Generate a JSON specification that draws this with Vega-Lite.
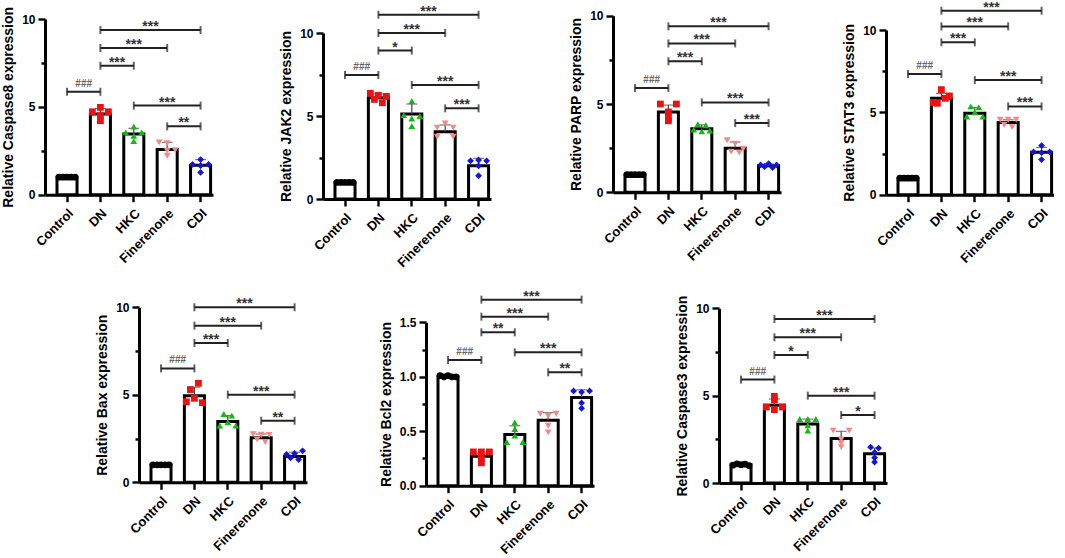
{
"$schema": "https://vega.github.io/schema/vega-lite/v6.json",
"padding": {"left": 1, "top": 0, "right": 0, "bottom": 0},
"datasets": {"d": [
{"p":"A","t":"bar","g":"Control","v":1.0,"e":1.02},{"p":"A","t":"bar","g":"DN","v":4.6,"e":4.9},{"p":"A","t":"bar","g":"HKC","v":3.45,"e":3.78},{"p":"A","t":"bar","g":"Finerenone","v":2.57,"e":2.98},{"p":"A","t":"bar","g":"CDI","v":1.67,"e":2.0},
{"p":"A","t":"pt","g":"Control","k":1,"v":1.0},{"p":"A","t":"pt","g":"Control","k":2,"v":1.0},{"p":"A","t":"pt","g":"Control","k":3,"v":1.0},{"p":"A","t":"pt","g":"Control","k":4,"v":1.0},{"p":"A","t":"pt","g":"Control","k":5,"v":1.0},
{"p":"A","t":"pt","g":"DN","k":3,"v":4.97},{"p":"A","t":"pt","g":"DN","k":1,"v":4.72},{"p":"A","t":"pt","g":"DN","k":5,"v":4.72},{"p":"A","t":"pt","g":"DN","k":3,"v":4.5},{"p":"A","t":"pt","g":"DN","k":3,"v":4.21},
{"p":"A","t":"pt","g":"HKC","k":3,"v":3.88},{"p":"A","t":"pt","g":"HKC","k":1,"v":3.55},{"p":"A","t":"pt","g":"HKC","k":5,"v":3.55},{"p":"A","t":"pt","g":"HKC","k":3,"v":3.35},{"p":"A","t":"pt","g":"HKC","k":3,"v":3.05},
{"p":"A","t":"pt","g":"Finerenone","k":1,"v":2.98},{"p":"A","t":"pt","g":"Finerenone","k":3,"v":2.93},{"p":"A","t":"pt","g":"Finerenone","k":5,"v":2.54},{"p":"A","t":"pt","g":"Finerenone","k":3,"v":2.5},{"p":"A","t":"pt","g":"Finerenone","k":3,"v":2.22},
{"p":"A","t":"pt","g":"CDI","k":3,"v":2.0},{"p":"A","t":"pt","g":"CDI","k":1,"v":1.72},{"p":"A","t":"pt","g":"CDI","k":5,"v":1.72},{"p":"A","t":"pt","g":"CDI","k":3,"v":1.65},{"p":"A","t":"pt","g":"CDI","k":3,"v":1.27},
{"p":"A","t":"brk","g":"DN","g2":"CDI","s":3,"v":9.37,"lab":"***"},{"p":"A","t":"brk","g":"DN","g2":"Finerenone","s":2,"v":8.35,"lab":"***"},{"p":"A","t":"brk","g":"DN","g2":"HKC","s":1,"v":7.34,"lab":"***"},{"p":"A","t":"brk","g":"Control","g2":"DN","s":1,"v":5.86,"lab":"###"},{"p":"A","t":"brk","g":"HKC","g2":"CDI","s":2,"v":5.07,"lab":"***"},{"p":"A","t":"brk","g":"Finerenone","g2":"CDI","s":1,"v":3.89,"lab":"**"},

{"p":"B","t":"bar","g":"Control","v":1.0,"e":1.02},{"p":"B","t":"bar","g":"DN","v":6.1,"e":6.33},{"p":"B","t":"bar","g":"HKC","v":5.12,"e":5.72},{"p":"B","t":"bar","g":"Finerenone","v":4.05,"e":4.46},{"p":"B","t":"bar","g":"CDI","v":2.01,"e":2.45},
{"p":"B","t":"pt","g":"Control","k":1,"v":1.0},{"p":"B","t":"pt","g":"Control","k":2,"v":1.0},{"p":"B","t":"pt","g":"Control","k":3,"v":1.0},{"p":"B","t":"pt","g":"Control","k":4,"v":1.0},{"p":"B","t":"pt","g":"Control","k":5,"v":1.0},
{"p":"B","t":"pt","g":"DN","k":1,"v":6.37},{"p":"B","t":"pt","g":"DN","k":3,"v":6.25},{"p":"B","t":"pt","g":"DN","k":5,"v":6.18},{"p":"B","t":"pt","g":"DN","k":2,"v":6.0},{"p":"B","t":"pt","g":"DN","k":4,"v":5.8},
{"p":"B","t":"pt","g":"HKC","k":3,"v":5.9},{"p":"B","t":"pt","g":"HKC","k":1,"v":5.05},{"p":"B","t":"pt","g":"HKC","k":5,"v":5.0},{"p":"B","t":"pt","g":"HKC","k":3,"v":4.85},{"p":"B","t":"pt","g":"HKC","k":3,"v":4.4},
{"p":"B","t":"pt","g":"Finerenone","k":3,"v":4.55},{"p":"B","t":"pt","g":"Finerenone","k":1,"v":4.3},{"p":"B","t":"pt","g":"Finerenone","k":5,"v":4.3},{"p":"B","t":"pt","g":"Finerenone","k":1,"v":3.75},{"p":"B","t":"pt","g":"Finerenone","k":5,"v":3.75},
{"p":"B","t":"pt","g":"CDI","k":3,"v":2.35},{"p":"B","t":"pt","g":"CDI","k":1,"v":2.3},{"p":"B","t":"pt","g":"CDI","k":5,"v":2.3},{"p":"B","t":"pt","g":"CDI","k":3,"v":2.0},{"p":"B","t":"pt","g":"CDI","k":3,"v":1.4},
{"p":"B","t":"brk","g":"DN","g2":"CDI","s":3,"v":11.1,"lab":"***"},{"p":"B","t":"brk","g":"DN","g2":"Finerenone","s":2,"v":10.0,"lab":"***"},{"p":"B","t":"brk","g":"DN","g2":"HKC","s":1,"v":8.94,"lab":"*"},{"p":"B","t":"brk","g":"Control","g2":"DN","s":1,"v":7.47,"lab":"###"},{"p":"B","t":"brk","g":"HKC","g2":"CDI","s":2,"v":6.87,"lab":"***"},{"p":"B","t":"brk","g":"Finerenone","g2":"CDI","s":1,"v":5.46,"lab":"***"},

{"p":"C","t":"bar","g":"Control","v":1.0,"e":1.02},{"p":"C","t":"bar","g":"DN","v":4.55,"e":4.94},{"p":"C","t":"bar","g":"HKC","v":3.6,"e":3.82},{"p":"C","t":"bar","g":"Finerenone","v":2.5,"e":2.85},{"p":"C","t":"bar","g":"CDI","v":1.5,"e":1.6},
{"p":"C","t":"pt","g":"Control","k":1,"v":1.0},{"p":"C","t":"pt","g":"Control","k":2,"v":1.0},{"p":"C","t":"pt","g":"Control","k":3,"v":1.0},{"p":"C","t":"pt","g":"Control","k":4,"v":1.0},{"p":"C","t":"pt","g":"Control","k":5,"v":1.0},
{"p":"C","t":"pt","g":"DN","k":1,"v":5.0},{"p":"C","t":"pt","g":"DN","k":5,"v":5.0},{"p":"C","t":"pt","g":"DN","k":3,"v":4.55},{"p":"C","t":"pt","g":"DN","k":3,"v":4.2},{"p":"C","t":"pt","g":"DN","k":3,"v":4.05},
{"p":"C","t":"pt","g":"HKC","k":2,"v":3.85},{"p":"C","t":"pt","g":"HKC","k":4,"v":3.8},{"p":"C","t":"pt","g":"HKC","k":1,"v":3.55},{"p":"C","t":"pt","g":"HKC","k":5,"v":3.5},{"p":"C","t":"pt","g":"HKC","k":3,"v":3.45},
{"p":"C","t":"pt","g":"Finerenone","k":1,"v":2.95},{"p":"C","t":"pt","g":"Finerenone","k":3,"v":2.75},{"p":"C","t":"pt","g":"Finerenone","k":5,"v":2.45},{"p":"C","t":"pt","g":"Finerenone","k":2,"v":2.3},{"p":"C","t":"pt","g":"Finerenone","k":4,"v":2.25},
{"p":"C","t":"pt","g":"CDI","k":3,"v":1.62},{"p":"C","t":"pt","g":"CDI","k":1,"v":1.55},{"p":"C","t":"pt","g":"CDI","k":5,"v":1.55},{"p":"C","t":"pt","g":"CDI","k":2,"v":1.45},{"p":"C","t":"pt","g":"CDI","k":4,"v":1.4},
{"p":"C","t":"brk","g":"DN","g2":"CDI","s":3,"v":9.4,"lab":"***"},{"p":"C","t":"brk","g":"DN","g2":"Finerenone","s":2,"v":8.43,"lab":"***"},{"p":"C","t":"brk","g":"DN","g2":"HKC","s":1,"v":7.42,"lab":"***"},{"p":"C","t":"brk","g":"Control","g2":"DN","s":1,"v":5.9,"lab":"###"},{"p":"C","t":"brk","g":"HKC","g2":"CDI","s":2,"v":5.09,"lab":"***"},{"p":"C","t":"brk","g":"Finerenone","g2":"CDI","s":1,"v":3.92,"lab":"***"},

{"p":"D","t":"bar","g":"Control","v":1.0,"e":1.02},{"p":"D","t":"bar","g":"DN","v":5.85,"e":6.15},{"p":"D","t":"bar","g":"HKC","v":4.95,"e":5.3},{"p":"D","t":"bar","g":"Finerenone","v":4.39,"e":4.55},{"p":"D","t":"bar","g":"CDI","v":2.57,"e":2.87},
{"p":"D","t":"pt","g":"Control","k":1,"v":1.0},{"p":"D","t":"pt","g":"Control","k":2,"v":1.0},{"p":"D","t":"pt","g":"Control","k":3,"v":1.0},{"p":"D","t":"pt","g":"Control","k":4,"v":1.0},{"p":"D","t":"pt","g":"Control","k":5,"v":1.0},
{"p":"D","t":"pt","g":"DN","k":3,"v":6.38},{"p":"D","t":"pt","g":"DN","k":5,"v":6.0},{"p":"D","t":"pt","g":"DN","k":4,"v":5.85},{"p":"D","t":"pt","g":"DN","k":1,"v":5.6},{"p":"D","t":"pt","g":"DN","k":2,"v":5.55},
{"p":"D","t":"pt","g":"HKC","k":2,"v":5.36},{"p":"D","t":"pt","g":"HKC","k":4,"v":5.3},{"p":"D","t":"pt","g":"HKC","k":3,"v":5.0},{"p":"D","t":"pt","g":"HKC","k":1,"v":4.75},{"p":"D","t":"pt","g":"HKC","k":5,"v":4.75},
{"p":"D","t":"pt","g":"Finerenone","k":1,"v":4.55},{"p":"D","t":"pt","g":"Finerenone","k":3,"v":4.55},{"p":"D","t":"pt","g":"Finerenone","k":5,"v":4.55},{"p":"D","t":"pt","g":"Finerenone","k":2,"v":4.25},{"p":"D","t":"pt","g":"Finerenone","k":4,"v":4.1},
{"p":"D","t":"pt","g":"CDI","k":3,"v":2.98},{"p":"D","t":"pt","g":"CDI","k":1,"v":2.6},{"p":"D","t":"pt","g":"CDI","k":5,"v":2.6},{"p":"D","t":"pt","g":"CDI","k":3,"v":2.55},{"p":"D","t":"pt","g":"CDI","k":3,"v":2.13},
{"p":"D","t":"brk","g":"DN","g2":"CDI","s":3,"v":11.17,"lab":"***"},{"p":"D","t":"brk","g":"DN","g2":"Finerenone","s":2,"v":10.22,"lab":"***"},{"p":"D","t":"brk","g":"DN","g2":"HKC","s":1,"v":9.25,"lab":"***"},{"p":"D","t":"brk","g":"Control","g2":"DN","s":1,"v":7.33,"lab":"###"},{"p":"D","t":"brk","g":"HKC","g2":"CDI","s":2,"v":6.96,"lab":"***"},{"p":"D","t":"brk","g":"Finerenone","g2":"CDI","s":1,"v":5.36,"lab":"***"},

{"p":"E","t":"bar","g":"Control","v":1.0,"e":1.02},{"p":"E","t":"bar","g":"DN","v":4.95,"e":5.43},{"p":"E","t":"bar","g":"HKC","v":3.47,"e":3.81},{"p":"E","t":"bar","g":"Finerenone","v":2.55,"e":2.76},{"p":"E","t":"bar","g":"CDI","v":1.47,"e":1.72},
{"p":"E","t":"pt","g":"Control","k":1,"v":1.0},{"p":"E","t":"pt","g":"Control","k":2,"v":1.0},{"p":"E","t":"pt","g":"Control","k":3,"v":1.0},{"p":"E","t":"pt","g":"Control","k":4,"v":1.0},{"p":"E","t":"pt","g":"Control","k":5,"v":1.0},
{"p":"E","t":"pt","g":"DN","k":4,"v":5.66},{"p":"E","t":"pt","g":"DN","k":2,"v":5.3},{"p":"E","t":"pt","g":"DN","k":3,"v":4.8},{"p":"E","t":"pt","g":"DN","k":1,"v":4.6},{"p":"E","t":"pt","g":"DN","k":5,"v":4.55},
{"p":"E","t":"pt","g":"HKC","k":2,"v":3.9},{"p":"E","t":"pt","g":"HKC","k":4,"v":3.81},{"p":"E","t":"pt","g":"HKC","k":3,"v":3.43},{"p":"E","t":"pt","g":"HKC","k":1,"v":3.24},{"p":"E","t":"pt","g":"HKC","k":5,"v":3.24},
{"p":"E","t":"pt","g":"Finerenone","k":1,"v":2.75},{"p":"E","t":"pt","g":"Finerenone","k":3,"v":2.72},{"p":"E","t":"pt","g":"Finerenone","k":5,"v":2.7},{"p":"E","t":"pt","g":"Finerenone","k":2,"v":2.45},{"p":"E","t":"pt","g":"Finerenone","k":4,"v":2.3},
{"p":"E","t":"pt","g":"CDI","k":5,"v":1.8},{"p":"E","t":"pt","g":"CDI","k":3,"v":1.65},{"p":"E","t":"pt","g":"CDI","k":1,"v":1.6},{"p":"E","t":"pt","g":"CDI","k":2,"v":1.4},{"p":"E","t":"pt","g":"CDI","k":4,"v":1.3},
{"p":"E","t":"brk","g":"DN","g2":"CDI","s":3,"v":10.0,"lab":"***"},{"p":"E","t":"brk","g":"DN","g2":"Finerenone","s":2,"v":8.95,"lab":"***"},{"p":"E","t":"brk","g":"DN","g2":"HKC","s":1,"v":7.96,"lab":"***"},{"p":"E","t":"brk","g":"Control","g2":"DN","s":1,"v":6.51,"lab":"###"},{"p":"E","t":"brk","g":"HKC","g2":"CDI","s":2,"v":5.01,"lab":"***"},{"p":"E","t":"brk","g":"Finerenone","g2":"CDI","s":1,"v":3.52,"lab":"**"},

{"p":"F","t":"bar","g":"Control","v":1.0,"e":1.01},{"p":"F","t":"bar","g":"DN","v":0.27,"e":0.3},{"p":"F","t":"bar","g":"HKC","v":0.47,"e":0.55},{"p":"F","t":"bar","g":"Finerenone","v":0.6,"e":0.67},{"p":"F","t":"bar","g":"CDI","v":0.81,"e":0.88},
{"p":"F","t":"pt","g":"Control","k":1,"v":1.01},{"p":"F","t":"pt","g":"Control","k":2,"v":1.0},{"p":"F","t":"pt","g":"Control","k":3,"v":1.01},{"p":"F","t":"pt","g":"Control","k":4,"v":1.0},{"p":"F","t":"pt","g":"Control","k":5,"v":1.0},
{"p":"F","t":"pt","g":"DN","k":1,"v":0.31},{"p":"F","t":"pt","g":"DN","k":3,"v":0.31},{"p":"F","t":"pt","g":"DN","k":5,"v":0.31},{"p":"F","t":"pt","g":"DN","k":3,"v":0.25},{"p":"F","t":"pt","g":"DN","k":3,"v":0.21},
{"p":"F","t":"pt","g":"HKC","k":3,"v":0.58},{"p":"F","t":"pt","g":"HKC","k":3,"v":0.52},{"p":"F","t":"pt","g":"HKC","k":3,"v":0.46},{"p":"F","t":"pt","g":"HKC","k":1,"v":0.4},{"p":"F","t":"pt","g":"HKC","k":5,"v":0.4},
{"p":"F","t":"pt","g":"Finerenone","k":1,"v":0.66},{"p":"F","t":"pt","g":"Finerenone","k":5,"v":0.66},{"p":"F","t":"pt","g":"Finerenone","k":3,"v":0.64},{"p":"F","t":"pt","g":"Finerenone","k":3,"v":0.55},{"p":"F","t":"pt","g":"Finerenone","k":3,"v":0.49},
{"p":"F","t":"pt","g":"CDI","k":1,"v":0.87},{"p":"F","t":"pt","g":"CDI","k":5,"v":0.87},{"p":"F","t":"pt","g":"CDI","k":3,"v":0.86},{"p":"F","t":"pt","g":"CDI","k":3,"v":0.76},{"p":"F","t":"pt","g":"CDI","k":3,"v":0.71},
{"p":"F","t":"brk","g":"DN","g2":"CDI","s":3,"v":1.708,"lab":"***"},{"p":"F","t":"brk","g":"DN","g2":"Finerenone","s":2,"v":1.552,"lab":"***"},{"p":"F","t":"brk","g":"DN","g2":"HKC","s":1,"v":1.408,"lab":"**"},{"p":"F","t":"brk","g":"Control","g2":"DN","s":1,"v":1.154,"lab":"###"},{"p":"F","t":"brk","g":"HKC","g2":"CDI","s":2,"v":1.224,"lab":"***"},{"p":"F","t":"brk","g":"Finerenone","g2":"CDI","s":1,"v":1.041,"lab":"**"},

{"p":"G","t":"bar","g":"Control","v":1.05,"e":1.1},{"p":"G","t":"bar","g":"DN","v":4.45,"e":4.81},{"p":"G","t":"bar","g":"HKC","v":3.38,"e":3.66},{"p":"G","t":"bar","g":"Finerenone","v":2.55,"e":2.96},{"p":"G","t":"bar","g":"CDI","v":1.68,"e":2.0},
{"p":"G","t":"pt","g":"Control","k":2,"v":1.1},{"p":"G","t":"pt","g":"Control","k":4,"v":1.08},{"p":"G","t":"pt","g":"Control","k":3,"v":1.05},{"p":"G","t":"pt","g":"Control","k":1,"v":1.02},{"p":"G","t":"pt","g":"Control","k":5,"v":1.0},
{"p":"G","t":"pt","g":"DN","k":3,"v":4.96},{"p":"G","t":"pt","g":"DN","k":3,"v":4.75},{"p":"G","t":"pt","g":"DN","k":1,"v":4.35},{"p":"G","t":"pt","g":"DN","k":5,"v":4.35},{"p":"G","t":"pt","g":"DN","k":3,"v":4.2},
{"p":"G","t":"pt","g":"HKC","k":1,"v":3.66},{"p":"G","t":"pt","g":"HKC","k":3,"v":3.66},{"p":"G","t":"pt","g":"HKC","k":5,"v":3.66},{"p":"G","t":"pt","g":"HKC","k":3,"v":3.3},{"p":"G","t":"pt","g":"HKC","k":3,"v":3.0},
{"p":"G","t":"pt","g":"Finerenone","k":1,"v":3.0},{"p":"G","t":"pt","g":"Finerenone","k":5,"v":3.0},{"p":"G","t":"pt","g":"Finerenone","k":3,"v":2.5},{"p":"G","t":"pt","g":"Finerenone","k":3,"v":2.3},{"p":"G","t":"pt","g":"Finerenone","k":3,"v":2.05},
{"p":"G","t":"pt","g":"CDI","k":2,"v":2.05},{"p":"G","t":"pt","g":"CDI","k":4,"v":2.0},{"p":"G","t":"pt","g":"CDI","k":3,"v":1.75},{"p":"G","t":"pt","g":"CDI","k":3,"v":1.45},{"p":"G","t":"pt","g":"CDI","k":3,"v":1.2},
{"p":"G","t":"brk","g":"DN","g2":"CDI","s":3,"v":9.39,"lab":"***"},{"p":"G","t":"brk","g":"DN","g2":"Finerenone","s":2,"v":8.34,"lab":"***"},{"p":"G","t":"brk","g":"DN","g2":"HKC","s":1,"v":7.33,"lab":"*"},{"p":"G","t":"brk","g":"Control","g2":"DN","s":1,"v":5.92,"lab":"###"},{"p":"G","t":"brk","g":"HKC","g2":"CDI","s":2,"v":5.0,"lab":"***"},{"p":"G","t":"brk","g":"Finerenone","g2":"CDI","s":1,"v":3.89,"lab":"*"}
]},
"data": {"name": "d"},
"columns": 7,
"spacing": {"row": 106, "column": 0},
"bounds": "flush",
"align": "each",
"concat": [
{"width": 93.3, "height": 179.7, "transform": [{"filter": "datum.p === 'A'"}],
 "encoding": {
  "x": {"field": "g", "type": "nominal", "scale": {"domain": ["Control","DN","HKC","Finerenone","CDI"], "range": [0,168], "paddingInner": 0.4, "paddingOuter": 0.2156, "align": 0.833}, "axis": {"title": null, "labelAngle": -45, "labelAlign": "right", "labelBaseline": "top", "labelFontSize": 13, "tickSize": 7, "labelPadding": 5}},
  "y": {"field": "v", "type": "quantitative", "scale": {"domain": [0,10], "range": [179.7,4], "nice": false}, "axis": {"title": "Relative Caspase8 expression", "values": [0,2.5,5,7.5,10], "labelExpr": "datum.value % 5 === 0 ? datum.label : ''", "tickSize": {"condition": {"test": "datum.value % 5 === 0", "value": 7}, "value": 4}}}},
 "resolve": {"scale": {"xOffset": "independent"}},
 "layer": [
  {"transform": [{"filter": "datum.t === 'bar'"}], "mark": {"type": "bar", "fill": "white", "stroke": "black", "strokeWidth": 3}},
  {"transform": [{"filter": "datum.t === 'bar'"}], "mark": {"type": "rule", "color": "#444", "strokeWidth": 1.2}, "encoding": {"y2": {"field": "e"}}},
  {"transform": [{"filter": "datum.t === 'bar'"}], "mark": {"type": "tick", "orient": "horizontal", "size": 11, "thickness": 1.2, "color": "#444"}, "encoding": {"y": {"field": "e", "type": "quantitative", "title": "Relative Caspase8 expression"}}},
  {"transform": [{"filter": "datum.t === 'pt'"}], "mark": {"type": "point", "filled": true, "size": 46, "opacity": 1}, "encoding": {"xOffset": {"field": "k", "type": "ordinal", "scale": {"domain": [1,2,3,4,5]}}, "color": {"field": "g", "type": "nominal", "legend": null, "scale": {"domain": ["Control","DN","HKC","Finerenone","CDI"], "range": ["#000000","#ee1111","#13b813","#f48888","#1515d8"]}}, "shape": {"field": "g", "type": "nominal", "legend": null, "scale": {"domain": ["Control","DN","HKC","Finerenone","CDI"], "range": ["circle","square","triangle-up","triangle-down","diamond"]}}}},
  {"transform": [{"filter": "datum.t === 'brk'"}], "mark": {"type": "rule", "color": "#222", "strokeWidth": 2}, "encoding": {"x2": {"field": "g2"}}},
  {"transform": [{"filter": "datum.t === 'brk'"}, {"fold": ["g","g2"], "as": ["end","gx"]}], "mark": {"type": "tick", "orient": "vertical", "size": 8, "thickness": 2, "color": "#222"}, "encoding": {"x": {"field": "gx", "type": "nominal", "title": null}}},
  {"transform": [{"filter": "datum.t === 'brk' && datum.lab !== '###'"}], "mark": {"type": "text", "font": "Liberation Sans", "fontWeight": "bold", "fontSize": 14, "baseline": "alphabetic", "color": "#333", "dy": 1}, "encoding": {"text": {"field": "lab"}, "xOffset": {"field": "s", "type": "quantitative", "scale": {"domain": [0,2], "range": [10,43.4]}}}},
  {"transform": [{"filter": "datum.lab === '###'"}], "mark": {"type": "text", "font": "Liberation Sans", "fontWeight": "bold", "fontSize": 10, "baseline": "alphabetic", "color": "#666", "dy": -5}, "encoding": {"text": {"field": "lab"}, "xOffset": {"field": "s", "type": "quantitative", "scale": {"domain": [0,2], "range": [10,43.4]}}}}
 ]},
{"width": 183.7, "height": 1, "data": {"values": []}, "mark": {"type": "point", "opacity": 0}},
{"width": 102.3, "height": 184, "transform": [{"filter": "datum.p === 'B'"}],
 "encoding": {
  "x": {"field": "g", "type": "nominal", "scale": {"domain": ["Control","DN","HKC","Finerenone","CDI"], "range": [0,168], "paddingInner": 0.4, "paddingOuter": 0.2156, "align": 0.833}, "axis": {"title": null, "labelAngle": -45, "labelAlign": "right", "labelBaseline": "top", "labelFontSize": 13, "tickSize": 7, "labelPadding": 5}},
  "y": {"field": "v", "type": "quantitative", "scale": {"domain": [0,10], "range": [184,18], "nice": false}, "axis": {"title": "Relative JAK2 expression", "values": [0,2.5,5,7.5,10], "labelExpr": "datum.value % 5 === 0 ? datum.label : ''", "tickSize": {"condition": {"test": "datum.value % 5 === 0", "value": 7}, "value": 4}}}},
 "resolve": {"scale": {"xOffset": "independent"}},
 "layer": [
  {"transform": [{"filter": "datum.t === 'bar'"}], "mark": {"type": "bar", "fill": "white", "stroke": "black", "strokeWidth": 3}},
  {"transform": [{"filter": "datum.t === 'bar'"}], "mark": {"type": "rule", "color": "#444", "strokeWidth": 1.2}, "encoding": {"y2": {"field": "e"}}},
  {"transform": [{"filter": "datum.t === 'bar'"}], "mark": {"type": "tick", "orient": "horizontal", "size": 11, "thickness": 1.2, "color": "#444"}, "encoding": {"y": {"field": "e", "type": "quantitative", "title": "Relative JAK2 expression"}}},
  {"transform": [{"filter": "datum.t === 'pt'"}], "mark": {"type": "point", "filled": true, "size": 46, "opacity": 1}, "encoding": {"xOffset": {"field": "k", "type": "ordinal", "scale": {"domain": [1,2,3,4,5]}}, "color": {"field": "g", "type": "nominal", "legend": null, "scale": {"domain": ["Control","DN","HKC","Finerenone","CDI"], "range": ["#000000","#ee1111","#13b813","#f48888","#1515d8"]}}, "shape": {"field": "g", "type": "nominal", "legend": null, "scale": {"domain": ["Control","DN","HKC","Finerenone","CDI"], "range": ["circle","square","triangle-up","triangle-down","diamond"]}}}},
  {"transform": [{"filter": "datum.t === 'brk'"}], "mark": {"type": "rule", "color": "#222", "strokeWidth": 2}, "encoding": {"x2": {"field": "g2"}}},
  {"transform": [{"filter": "datum.t === 'brk'"}, {"fold": ["g","g2"], "as": ["end","gx"]}], "mark": {"type": "tick", "orient": "vertical", "size": 8, "thickness": 2, "color": "#222"}, "encoding": {"x": {"field": "gx", "type": "nominal", "title": null}}},
  {"transform": [{"filter": "datum.t === 'brk' && datum.lab !== '###'"}], "mark": {"type": "text", "font": "Liberation Sans", "fontWeight": "bold", "fontSize": 14, "baseline": "alphabetic", "color": "#333", "dy": 1}, "encoding": {"text": {"field": "lab"}, "xOffset": {"field": "s", "type": "quantitative", "scale": {"domain": [0,2], "range": [10,43.4]}}}},
  {"transform": [{"filter": "datum.lab === '###'"}], "mark": {"type": "text", "font": "Liberation Sans", "fontWeight": "bold", "fontSize": 10, "baseline": "alphabetic", "color": "#666", "dy": -5}, "encoding": {"text": {"field": "lab"}, "xOffset": {"field": "s", "type": "quantitative", "scale": {"domain": [0,2], "range": [10,43.4]}}}}
 ]},
{"width": 186.4, "height": 1, "data": {"values": []}, "mark": {"type": "point", "opacity": 0}},
{"width": 105.3, "height": 177.3, "transform": [{"filter": "datum.p === 'C'"}],
 "encoding": {
  "x": {"field": "g", "type": "nominal", "scale": {"domain": ["Control","DN","HKC","Finerenone","CDI"], "range": [0,168], "paddingInner": 0.4, "paddingOuter": 0.2156, "align": 0.833}, "axis": {"title": null, "labelAngle": -45, "labelAlign": "right", "labelBaseline": "top", "labelFontSize": 13, "tickSize": 7, "labelPadding": 5}},
  "y": {"field": "v", "type": "quantitative", "scale": {"domain": [0,10], "range": [177.3,0.7], "nice": false}, "axis": {"title": "Relative PARP expression", "values": [0,2.5,5,7.5,10], "labelExpr": "datum.value % 5 === 0 ? datum.label : ''", "tickSize": {"condition": {"test": "datum.value % 5 === 0", "value": 7}, "value": 4}}}},
 "resolve": {"scale": {"xOffset": "independent"}},
 "layer": [
  {"transform": [{"filter": "datum.t === 'bar'"}], "mark": {"type": "bar", "fill": "white", "stroke": "black", "strokeWidth": 3}},
  {"transform": [{"filter": "datum.t === 'bar'"}], "mark": {"type": "rule", "color": "#444", "strokeWidth": 1.2}, "encoding": {"y2": {"field": "e"}}},
  {"transform": [{"filter": "datum.t === 'bar'"}], "mark": {"type": "tick", "orient": "horizontal", "size": 11, "thickness": 1.2, "color": "#444"}, "encoding": {"y": {"field": "e", "type": "quantitative", "title": "Relative PARP expression"}}},
  {"transform": [{"filter": "datum.t === 'pt'"}], "mark": {"type": "point", "filled": true, "size": 46, "opacity": 1}, "encoding": {"xOffset": {"field": "k", "type": "ordinal", "scale": {"domain": [1,2,3,4,5]}}, "color": {"field": "g", "type": "nominal", "legend": null, "scale": {"domain": ["Control","DN","HKC","Finerenone","CDI"], "range": ["#000000","#ee1111","#13b813","#f48888","#1515d8"]}}, "shape": {"field": "g", "type": "nominal", "legend": null, "scale": {"domain": ["Control","DN","HKC","Finerenone","CDI"], "range": ["circle","square","triangle-up","triangle-down","diamond"]}}}},
  {"transform": [{"filter": "datum.t === 'brk'"}], "mark": {"type": "rule", "color": "#222", "strokeWidth": 2}, "encoding": {"x2": {"field": "g2"}}},
  {"transform": [{"filter": "datum.t === 'brk'"}, {"fold": ["g","g2"], "as": ["end","gx"]}], "mark": {"type": "tick", "orient": "vertical", "size": 8, "thickness": 2, "color": "#222"}, "encoding": {"x": {"field": "gx", "type": "nominal", "title": null}}},
  {"transform": [{"filter": "datum.t === 'brk' && datum.lab !== '###'"}], "mark": {"type": "text", "font": "Liberation Sans", "fontWeight": "bold", "fontSize": 14, "baseline": "alphabetic", "color": "#333", "dy": 1}, "encoding": {"text": {"field": "lab"}, "xOffset": {"field": "s", "type": "quantitative", "scale": {"domain": [0,2], "range": [10,43.4]}}}},
  {"transform": [{"filter": "datum.lab === '###'"}], "mark": {"type": "text", "font": "Liberation Sans", "fontWeight": "bold", "fontSize": 10, "baseline": "alphabetic", "color": "#666", "dy": -5}, "encoding": {"text": {"field": "lab"}, "xOffset": {"field": "s", "type": "quantitative", "scale": {"domain": [0,2], "range": [10,43.4]}}}}
 ]},
{"width": 166.7, "height": 1, "data": {"values": []}, "mark": {"type": "point", "opacity": 0}},
{"width": 168, "height": 179.7, "transform": [{"filter": "datum.p === 'D'"}],
 "encoding": {
  "x": {"field": "g", "type": "nominal", "scale": {"domain": ["Control","DN","HKC","Finerenone","CDI"], "range": [0,168], "paddingInner": 0.4, "paddingOuter": 0.2156, "align": 0.833}, "axis": {"title": null, "labelAngle": -45, "labelAlign": "right", "labelBaseline": "top", "labelFontSize": 13, "tickSize": 7, "labelPadding": 5}},
  "y": {"field": "v", "type": "quantitative", "scale": {"domain": [0,10], "range": [179.7,15], "nice": false}, "axis": {"title": "Relative STAT3 expression", "values": [0,2.5,5,7.5,10], "labelExpr": "datum.value % 5 === 0 ? datum.label : ''", "tickSize": {"condition": {"test": "datum.value % 5 === 0", "value": 7}, "value": 4}}}},
 "resolve": {"scale": {"xOffset": "independent"}},
 "layer": [
  {"transform": [{"filter": "datum.t === 'bar'"}], "mark": {"type": "bar", "fill": "white", "stroke": "black", "strokeWidth": 3}},
  {"transform": [{"filter": "datum.t === 'bar'"}], "mark": {"type": "rule", "color": "#444", "strokeWidth": 1.2}, "encoding": {"y2": {"field": "e"}}},
  {"transform": [{"filter": "datum.t === 'bar'"}], "mark": {"type": "tick", "orient": "horizontal", "size": 11, "thickness": 1.2, "color": "#444"}, "encoding": {"y": {"field": "e", "type": "quantitative", "title": "Relative STAT3 expression"}}},
  {"transform": [{"filter": "datum.t === 'pt'"}], "mark": {"type": "point", "filled": true, "size": 46, "opacity": 1}, "encoding": {"xOffset": {"field": "k", "type": "ordinal", "scale": {"domain": [1,2,3,4,5]}}, "color": {"field": "g", "type": "nominal", "legend": null, "scale": {"domain": ["Control","DN","HKC","Finerenone","CDI"], "range": ["#000000","#ee1111","#13b813","#f48888","#1515d8"]}}, "shape": {"field": "g", "type": "nominal", "legend": null, "scale": {"domain": ["Control","DN","HKC","Finerenone","CDI"], "range": ["circle","square","triangle-up","triangle-down","diamond"]}}}},
  {"transform": [{"filter": "datum.t === 'brk'"}], "mark": {"type": "rule", "color": "#222", "strokeWidth": 2}, "encoding": {"x2": {"field": "g2"}}},
  {"transform": [{"filter": "datum.t === 'brk'"}, {"fold": ["g","g2"], "as": ["end","gx"]}], "mark": {"type": "tick", "orient": "vertical", "size": 8, "thickness": 2, "color": "#222"}, "encoding": {"x": {"field": "gx", "type": "nominal", "title": null}}},
  {"transform": [{"filter": "datum.t === 'brk' && datum.lab !== '###'"}], "mark": {"type": "text", "font": "Liberation Sans", "fontWeight": "bold", "fontSize": 14, "baseline": "alphabetic", "color": "#333", "dy": 1}, "encoding": {"text": {"field": "lab"}, "xOffset": {"field": "s", "type": "quantitative", "scale": {"domain": [0,2], "range": [10,43.4]}}}},
  {"transform": [{"filter": "datum.lab === '###'"}], "mark": {"type": "text", "font": "Liberation Sans", "fontWeight": "bold", "fontSize": 10, "baseline": "alphabetic", "color": "#666", "dy": -5}, "encoding": {"text": {"field": "lab"}, "xOffset": {"field": "s", "type": "quantitative", "scale": {"domain": [0,2], "range": [10,43.4]}}}}
 ]},
{"width": 93.3, "height": 1, "data": {"values": []}, "mark": {"type": "point", "opacity": 0}},
{"width": 183.7, "height": 177.3, "transform": [{"filter": "datum.p === 'E'"}],
 "encoding": {
  "x": {"field": "g", "type": "nominal", "scale": {"domain": ["Control","DN","HKC","Finerenone","CDI"], "range": [0,168], "paddingInner": 0.4, "paddingOuter": 0.2156, "align": 0.833}, "axis": {"title": null, "labelAngle": -45, "labelAlign": "right", "labelBaseline": "top", "labelFontSize": 13, "tickSize": 7, "labelPadding": 5}},
  "y": {"field": "v", "type": "quantitative", "scale": {"domain": [0,10], "range": [177.3,2.3], "nice": false}, "axis": {"title": "Relative Bax expression", "values": [0,2.5,5,7.5,10], "labelExpr": "datum.value % 5 === 0 ? datum.label : ''", "tickSize": {"condition": {"test": "datum.value % 5 === 0", "value": 7}, "value": 4}}}},
 "resolve": {"scale": {"xOffset": "independent"}},
 "layer": [
  {"transform": [{"filter": "datum.t === 'bar'"}], "mark": {"type": "bar", "fill": "white", "stroke": "black", "strokeWidth": 3}},
  {"transform": [{"filter": "datum.t === 'bar'"}], "mark": {"type": "rule", "color": "#444", "strokeWidth": 1.2}, "encoding": {"y2": {"field": "e"}}},
  {"transform": [{"filter": "datum.t === 'bar'"}], "mark": {"type": "tick", "orient": "horizontal", "size": 11, "thickness": 1.2, "color": "#444"}, "encoding": {"y": {"field": "e", "type": "quantitative", "title": "Relative Bax expression"}}},
  {"transform": [{"filter": "datum.t === 'pt'"}], "mark": {"type": "point", "filled": true, "size": 46, "opacity": 1}, "encoding": {"xOffset": {"field": "k", "type": "ordinal", "scale": {"domain": [1,2,3,4,5]}}, "color": {"field": "g", "type": "nominal", "legend": null, "scale": {"domain": ["Control","DN","HKC","Finerenone","CDI"], "range": ["#000000","#ee1111","#13b813","#f48888","#1515d8"]}}, "shape": {"field": "g", "type": "nominal", "legend": null, "scale": {"domain": ["Control","DN","HKC","Finerenone","CDI"], "range": ["circle","square","triangle-up","triangle-down","diamond"]}}}},
  {"transform": [{"filter": "datum.t === 'brk'"}], "mark": {"type": "rule", "color": "#222", "strokeWidth": 2}, "encoding": {"x2": {"field": "g2"}}},
  {"transform": [{"filter": "datum.t === 'brk'"}, {"fold": ["g","g2"], "as": ["end","gx"]}], "mark": {"type": "tick", "orient": "vertical", "size": 8, "thickness": 2, "color": "#222"}, "encoding": {"x": {"field": "gx", "type": "nominal", "title": null}}},
  {"transform": [{"filter": "datum.t === 'brk' && datum.lab !== '###'"}], "mark": {"type": "text", "font": "Liberation Sans", "fontWeight": "bold", "fontSize": 14, "baseline": "alphabetic", "color": "#333", "dy": 1}, "encoding": {"text": {"field": "lab"}, "xOffset": {"field": "s", "type": "quantitative", "scale": {"domain": [0,2], "range": [10,43.4]}}}},
  {"transform": [{"filter": "datum.lab === '###'"}], "mark": {"type": "text", "font": "Liberation Sans", "fontWeight": "bold", "fontSize": 10, "baseline": "alphabetic", "color": "#666", "dy": -5}, "encoding": {"text": {"field": "lab"}, "xOffset": {"field": "s", "type": "quantitative", "scale": {"domain": [0,2], "range": [10,43.4]}}}}
 ]},
{"width": 102.3, "height": 1, "data": {"values": []}, "mark": {"type": "point", "opacity": 0}},
{"width": 186.4, "height": 180.7, "transform": [{"filter": "datum.p === 'F'"}],
 "encoding": {
  "x": {"field": "g", "type": "nominal", "scale": {"domain": ["Control","DN","HKC","Finerenone","CDI"], "range": [0,168], "paddingInner": 0.4, "paddingOuter": 0.2156, "align": 0.833}, "axis": {"title": null, "labelAngle": -45, "labelAlign": "right", "labelBaseline": "top", "labelFontSize": 13, "tickSize": 7, "labelPadding": 5}},
  "y": {"field": "v", "type": "quantitative", "scale": {"domain": [0,1.5], "range": [180.7,17.3], "nice": false}, "axis": {"title": "Relative Bcl2 expression", "values": [0,0.25,0.5,0.75,1,1.25,1.5], "format": ".1f", "labelExpr": "(datum.value * 2) % 1 === 0 ? datum.label : ''", "tickSize": {"condition": {"test": "(datum.value * 2) % 1 === 0", "value": 7}, "value": 4}}}},
 "resolve": {"scale": {"xOffset": "independent"}},
 "layer": [
  {"transform": [{"filter": "datum.t === 'bar'"}], "mark": {"type": "bar", "fill": "white", "stroke": "black", "strokeWidth": 3}},
  {"transform": [{"filter": "datum.t === 'bar'"}], "mark": {"type": "rule", "color": "#444", "strokeWidth": 1.2}, "encoding": {"y2": {"field": "e"}}},
  {"transform": [{"filter": "datum.t === 'bar'"}], "mark": {"type": "tick", "orient": "horizontal", "size": 11, "thickness": 1.2, "color": "#444"}, "encoding": {"y": {"field": "e", "type": "quantitative", "title": "Relative Bcl2 expression"}}},
  {"transform": [{"filter": "datum.t === 'pt'"}], "mark": {"type": "point", "filled": true, "size": 46, "opacity": 1}, "encoding": {"xOffset": {"field": "k", "type": "ordinal", "scale": {"domain": [1,2,3,4,5]}}, "color": {"field": "g", "type": "nominal", "legend": null, "scale": {"domain": ["Control","DN","HKC","Finerenone","CDI"], "range": ["#000000","#ee1111","#13b813","#f48888","#1515d8"]}}, "shape": {"field": "g", "type": "nominal", "legend": null, "scale": {"domain": ["Control","DN","HKC","Finerenone","CDI"], "range": ["circle","square","triangle-up","triangle-down","diamond"]}}}},
  {"transform": [{"filter": "datum.t === 'brk'"}], "mark": {"type": "rule", "color": "#222", "strokeWidth": 2}, "encoding": {"x2": {"field": "g2"}}},
  {"transform": [{"filter": "datum.t === 'brk'"}, {"fold": ["g","g2"], "as": ["end","gx"]}], "mark": {"type": "tick", "orient": "vertical", "size": 8, "thickness": 2, "color": "#222"}, "encoding": {"x": {"field": "gx", "type": "nominal", "title": null}}},
  {"transform": [{"filter": "datum.t === 'brk' && datum.lab !== '###'"}], "mark": {"type": "text", "font": "Liberation Sans", "fontWeight": "bold", "fontSize": 14, "baseline": "alphabetic", "color": "#333", "dy": 1}, "encoding": {"text": {"field": "lab"}, "xOffset": {"field": "s", "type": "quantitative", "scale": {"domain": [0,2], "range": [10,43.4]}}}},
  {"transform": [{"filter": "datum.lab === '###'"}], "mark": {"type": "text", "font": "Liberation Sans", "fontWeight": "bold", "fontSize": 10, "baseline": "alphabetic", "color": "#666", "dy": -5}, "encoding": {"text": {"field": "lab"}, "xOffset": {"field": "s", "type": "quantitative", "scale": {"domain": [0,2], "range": [10,43.4]}}}}
 ]},
{"width": 105.3, "height": 1, "data": {"values": []}, "mark": {"type": "point", "opacity": 0}},
{"width": 166.7, "height": 178, "transform": [{"filter": "datum.p === 'G'"}],
 "encoding": {
  "x": {"field": "g", "type": "nominal", "scale": {"domain": ["Control","DN","HKC","Finerenone","CDI"], "range": [0,168], "paddingInner": 0.4, "paddingOuter": 0.2156, "align": 0.833}, "axis": {"title": null, "labelAngle": -45, "labelAlign": "right", "labelBaseline": "top", "labelFontSize": 13, "tickSize": 7, "labelPadding": 5}},
  "y": {"field": "v", "type": "quantitative", "scale": {"domain": [0,10], "range": [178,3.3], "nice": false}, "axis": {"title": "Relative Caspase3 expression", "values": [0,2.5,5,7.5,10], "labelExpr": "datum.value % 5 === 0 ? datum.label : ''", "tickSize": {"condition": {"test": "datum.value % 5 === 0", "value": 7}, "value": 4}}}},
 "resolve": {"scale": {"xOffset": "independent"}},
 "layer": [
  {"transform": [{"filter": "datum.t === 'bar'"}], "mark": {"type": "bar", "fill": "white", "stroke": "black", "strokeWidth": 3}},
  {"transform": [{"filter": "datum.t === 'bar'"}], "mark": {"type": "rule", "color": "#444", "strokeWidth": 1.2}, "encoding": {"y2": {"field": "e"}}},
  {"transform": [{"filter": "datum.t === 'bar'"}], "mark": {"type": "tick", "orient": "horizontal", "size": 11, "thickness": 1.2, "color": "#444"}, "encoding": {"y": {"field": "e", "type": "quantitative", "title": "Relative Caspase3 expression"}}},
  {"transform": [{"filter": "datum.t === 'pt'"}], "mark": {"type": "point", "filled": true, "size": 46, "opacity": 1}, "encoding": {"xOffset": {"field": "k", "type": "ordinal", "scale": {"domain": [1,2,3,4,5]}}, "color": {"field": "g", "type": "nominal", "legend": null, "scale": {"domain": ["Control","DN","HKC","Finerenone","CDI"], "range": ["#000000","#ee1111","#13b813","#f48888","#1515d8"]}}, "shape": {"field": "g", "type": "nominal", "legend": null, "scale": {"domain": ["Control","DN","HKC","Finerenone","CDI"], "range": ["circle","square","triangle-up","triangle-down","diamond"]}}}},
  {"transform": [{"filter": "datum.t === 'brk'"}], "mark": {"type": "rule", "color": "#222", "strokeWidth": 2}, "encoding": {"x2": {"field": "g2"}}},
  {"transform": [{"filter": "datum.t === 'brk'"}, {"fold": ["g","g2"], "as": ["end","gx"]}], "mark": {"type": "tick", "orient": "vertical", "size": 8, "thickness": 2, "color": "#222"}, "encoding": {"x": {"field": "gx", "type": "nominal", "title": null}}},
  {"transform": [{"filter": "datum.t === 'brk' && datum.lab !== '###'"}], "mark": {"type": "text", "font": "Liberation Sans", "fontWeight": "bold", "fontSize": 14, "baseline": "alphabetic", "color": "#333", "dy": 1}, "encoding": {"text": {"field": "lab"}, "xOffset": {"field": "s", "type": "quantitative", "scale": {"domain": [0,2], "range": [10,43.4]}}}},
  {"transform": [{"filter": "datum.lab === '###'"}], "mark": {"type": "text", "font": "Liberation Sans", "fontWeight": "bold", "fontSize": 10, "baseline": "alphabetic", "color": "#666", "dy": -5}, "encoding": {"text": {"field": "lab"}, "xOffset": {"field": "s", "type": "quantitative", "scale": {"domain": [0,2], "range": [10,43.4]}}}}
 ]}
],
"config": {
 "view": {"stroke": null},
 "font": "Liberation Sans",
 "axis": {"labelFont": "Liberation Sans", "labelFontWeight": "bold", "labelColor": "black", "labelFontSize": 12, "titleFont": "Liberation Sans", "titleFontWeight": "bold", "titleFontSize": 14, "titleColor": "black", "domainColor": "black", "domainWidth": 3, "tickColor": "black", "tickWidth": 2.4, "grid": false},
 "axisY": {"labelPadding": 3, "titlePadding": 6}
}
}
